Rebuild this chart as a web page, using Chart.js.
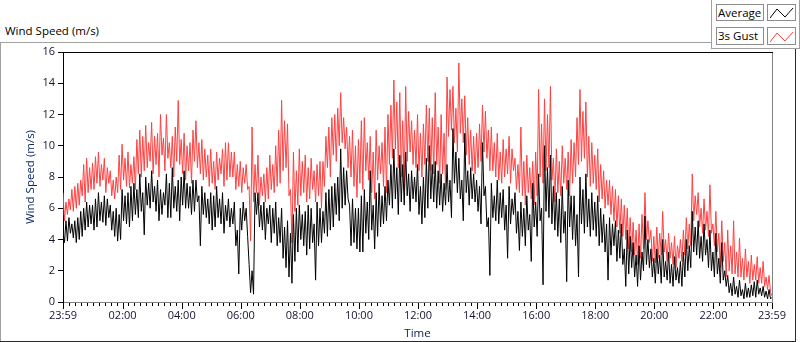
<!DOCTYPE html>
<html>
<head>
<meta charset="utf-8">
<script src="https://cdn.jsdelivr.net/npm/chart.js@4.4.1/dist/chart.umd.min.js"></script>
<style>
  html, body { margin: 0; padding: 0; background: #fff; overflow: hidden; }
  body { width: 800px; height: 342px; position: relative; font-family: 'Open Sans', sans-serif; }
  #chart { position: absolute; left: 0; top: 0; }
  .line { position: absolute; }
  .title { position: absolute; left: 5px; top: 23px; font-size: 11.5px; line-height: 16px; color: #000; white-space: nowrap; }
  .legend-panel { position: absolute; left: 711px; top: -1px; width: 87px; height: 49px; border: 1px solid #a0a0a0; border-top: none; background: #fff; }
  .legend-label { position: absolute; left: 716px; width: 45px; background: #fff; border: 1px solid #8c8c8c; font-size: 11.5px; line-height: 15px; padding-left: 1px; color: #000; white-space: nowrap; }
  .legend-icon { position: absolute; left: 767px; width: 27px; background: #fff; border: 1px solid #8c8c8c; }
  .legend-icon svg { display: block; }
</style>
</head>
<body>
<div class="line" style="left:0;top:42px;width:711px;height:1px;background:#a0a0a0"></div>
<div class="line" style="left:0;top:42px;width:1px;height:299px;background:#a0a0a0"></div>
<div class="line" style="left:0;top:341px;width:796px;height:1px;background:#2a2a2a"></div>
<div class="line" style="left:795px;top:49px;width:1px;height:293px;background:#2a2a2a"></div>
<div class="legend-panel"></div>
<div class="title">Wind Speed (m/s)</div>

<div class="legend-label" style="top:4px;height:15px">Average</div>
<div class="legend-icon" style="top:4px;height:15px">
  <svg width="27" height="15"><polyline points="2,13 9,4 17,12 25,3" fill="none" stroke="#000" stroke-width="1"/></svg>
</div>
<div class="legend-label" style="top:27px;height:16px">3s Gust</div>
<div class="legend-icon" style="top:27px;height:16px">
  <svg width="27" height="16"><polyline points="2,14 9,5 17,13 25,4" fill="none" stroke="#ff4040" stroke-width="1"/></svg>
</div>

<canvas id="chart" width="800" height="342"></canvas>

<script>
// Wind speed log, one sample every 3 minutes starting 23:59 the day before
const SAMPLE_STEP_MIN = 3;

const avgSpeed = [
  4.5,3.8, 5.2,3.9, 5.4,4.4, 5.0,4.1, 5.2,3.8, 5.4,4.0, 5.8,4.2, 6.0,4.6, 6.4,4.8, 6.2,5.0,
  6.2,4.6, 6.6,4.8, 7.0,5.2, 6.4,5.1, 6.8,4.9, 6.6,5.4, 6.2,4.6, 5.8,4.2, 6.0,3.9, 5.6,4.0,
  7.2,5.2, 6.8,5.0, 7.0,4.8, 7.4,5.2, 7.6,5.6, 7.2,5.4, 8.2,5.8, 7.0,4.3, 8.0,6.2, 7.6,6.0,
  8.4,6.4, 7.4,5.8, 7.8,5.2, 7.2,5.6, 7.0,6.2, 8.2,5.4, 7.6,5.4, 8.6,6.0, 7.4,5.8, 7.8,5.2,
  8.0,6.2, 8.4,6.0, 7.6,6.0, 7.4,5.6, 7.8,5.8, 7.8,6.4, 6.8,3.6, 7.4,5.6, 7.0,5.4,
  6.6,5.0, 7.0,4.6, 6.8,4.8, 7.4,5.4, 6.6,5.0, 7.0,4.4, 6.2,5.2, 6.6,4.8, 6.0,5.0, 6.4,3.6,
  4.6,1.8, 6.0,4.6, 6.4,5.2, 6.0,4.2, 2.4,0.6, 2.0,0.5, 7.0,5.6, 7.0,4.8, 6.2,4.6, 6.4,4.0,
  6.0,5.0, 6.2,3.8, 6.0,4.4, 6.4,3.6, 5.4,3.8, 6.0,2.8, 4.8,2.2, 5.2,1.6, 4.4,1.2, 5.6,2.6,
  6.0,3.2, 6.2,4.0, 5.6,3.6, 5.8,3.0, 6.2,3.4, 6.0,3.8, 5.0,1.4, 6.4,3.6, 6.0,3.8, 5.8,4.4,
  7.0,4.2, 7.2,4.6, 7.4,4.8, 7.6,5.6, 8.0,5.2, 9.8,6.0, 8.6,6.2, 8.4,6.6,
  6.2,3.6, 6.6,3.8, 6.0,3.4, 6.0,3.2, 6.8,3.2, 7.2,4.4, 6.4,4.0, 8.4,4.6, 6.2,3.4, 7.0,4.2,
  7.6,4.8, 6.8,5.0, 7.4,5.2, 7.8,6.2, 8.8,6.0, 9.8,6.6, 8.6,5.6, 9.4,6.4, 8.8,6.2, 9.6,6.8,
  8.2,5.8, 8.4,6.6, 8.0,6.4, 8.8,5.6, 7.4,5.0, 8.0,5.4, 9.2,6.0, 10.0,6.6, 8.8,6.4, 9.0,6.0,
  8.4,6.2, 8.2,5.8, 7.6,6.2, 8.8,6.4, 7.8,5.4, 11.1,7.6, 9.6,7.0, 9.2,6.6, 7.8,5.2, 10.8,7.0,
  8.4,6.2, 8.6,6.6, 8.2,6.4, 7.8,5.8, 7.4,5.0, 10.2,6.8, 7.4,4.8, 5.4,1.7,
  7.6,5.4, 6.8,5.2, 7.8,5.0, 7.0,5.4, 7.2,4.6, 6.2,2.8, 7.4,5.0, 6.6,5.6, 7.0,4.4, 5.8,3.3,
  6.4,4.2, 6.0,3.6, 6.8,4.6, 5.6,2.6, 7.6,4.8, 6.4,4.2, 8.2,5.2, 6.0,1.1, 10.0,5.8, 8.6,5.4,
  9.4,5.0, 7.4,4.6, 7.0,4.2, 6.6,3.8, 7.4,4.4, 5.8,1.3, 7.8,4.8, 6.8,4.0, 6.8,3.6, 5.6,1.6,
  8.0,5.0, 7.2,4.4, 8.2,4.8, 6.6,4.2, 7.0,4.6, 6.4,4.2, 6.8,3.6, 6.0,3.8, 5.6,3.2, 5.0,1.4,
  5.4,3.0, 5.0,3.6, 5.2,2.6, 4.6,2.8, 5.0,2.4, 3.4,1.0, 4.6,1.8, 4.2,2.2,
  3.8,1.6, 3.0,1.0, 3.6,1.4, 3.2,2.0, 5.5,2.4, 4.0,2.2, 3.4,1.6, 2.8,1.2, 3.4,1.8, 3.0,1.2,
  4.0,1.6, 2.6,1.4, 3.2,1.2, 2.4,1.0, 2.9,1.4, 2.2,1.2, 2.6,1.0, 3.2,1.6, 4.0,2.0, 3.6,2.2,
  5.8,3.2, 4.8,3.0, 5.2,2.8, 4.2,2.6, 5.0,3.0, 4.0,2.2, 4.6,2.0, 3.2,1.6, 4.4,1.8, 2.8,1.2,
  3.8,1.4, 2.0,1.0, 1.7,0.6, 1.2,0.4, 1.6,0.5, 1.0,0.3, 1.4,0.4, 0.8,0.2, 1.2,0.3, 0.9,0.3,
  1.1,0.4, 1.3,0.3, 1.4,0.5, 0.9,0.4, 1.0,0.3, 0.7,0.2, 0.8,0.2, 0.3
];

const gustSpeed = [
  7.0,5.2, 6.4,5.6, 6.6,5.9, 7.2,5.8, 7.4,6.0, 7.6,6.2, 7.8,6.8, 8.8,6.4, 9.2,7.0, 8.6,7.2,
  8.9,7.2, 9.3,7.6, 9.6,7.4, 8.8,7.8, 9.2,7.0, 8.6,7.6, 8.4,6.8, 7.8,6.6, 8.0,7.0, 9.4,7.2,
  10.1,7.8, 9.2,7.4, 9.6,7.3, 8.8,7.6, 9.3,7.2, 10.4,8.2, 11.0,8.0, 10.6,8.4, 11.3,8.6, 10.2,9.0,
  11.5,8.2, 10.6,8.8, 10.8,8.0, 12.0,9.4, 10.5,8.4, 12.0,9.2, 10.2,8.6, 10.6,8.0, 11.2,9.0, 12.9,8.8,
  10.4,8.2, 10.8,7.8, 10.0,8.4, 10.2,7.6, 11.0,9.0, 11.6,8.6, 10.2,8.2, 10.4,7.8, 9.8,8.0,
  9.4,7.4, 9.8,7.6, 9.0,7.2, 9.6,7.8, 9.2,8.2, 9.8,7.4, 10.2,7.8, 10.2,8.0, 9.6,8.0, 9.6,7.2,
  8.8,7.4, 9.0,7.0, 8.6,7.6, 8.8,7.2, 7.4,3.9, 11.2,6.4, 8.8,7.0, 9.4,6.2, 8.0,6.8, 8.2,6.4,
  8.6,6.6, 9.4,7.2, 8.8,7.0, 10.0,7.4, 11.0,7.6, 12.9,8.4, 11.6,8.6, 11.4,6.8, 7.2,3.8, 9.6,5.8,
  8.4,6.2, 9.8,6.8, 9.0,7.0, 9.4,6.4, 8.6,6.6, 9.2,7.2, 8.4,6.4, 8.8,6.8, 9.0,6.0, 9.0,7.4,
  10.6,8.6, 11.2,8.0, 11.8,9.4, 12.0,9.0, 12.4,10.0, 13.4,10.2, 11.8,9.8, 11.2,8.6,
  10.6,8.0, 11.0,7.4, 10.0,6.7, 10.4,7.6, 11.6,7.2, 11.8,8.4, 10.2,7.8, 10.6,7.0, 9.6,6.6, 11.0,7.8,
  10.0,8.2, 10.2,7.4, 11.2,7.0, 12.0,8.8, 12.6,9.2, 14.2,9.8, 12.8,8.6, 13.4,8.0, 11.6,7.2, 13.8,9.0,
  12.2,9.6, 11.6,8.8, 11.0,8.6, 12.0,8.4, 10.8,8.0, 11.4,8.8, 12.6,9.0, 12.4,8.4, 11.8,8.2, 13.4,8.8,
  11.2,7.6, 12.0,8.2, 10.8,7.2, 14.4,10.6, 13.6,11.0, 13.8,10.2, 12.4,9.6, 15.3,10.8, 13.0,10.2, 13.2,9.4,
  11.8,8.8, 11.0,8.4, 10.6,8.2, 10.8,8.6, 11.4,9.0, 12.6,9.6, 12.2,9.2, 11.0,8.4,
  11.2,8.4, 10.2,8.0, 10.8,7.8, 9.6,7.6, 10.4,8.0, 9.8,8.2, 10.6,7.6, 9.8,8.4, 9.2,7.2, 8.8,7.0,
  11.2,6.8, 9.0,6.2, 9.4,7.0, 8.6,6.6, 9.0,6.2, 9.6,6.8, 13.6,8.0, 11.4,7.6, 13.0,8.4, 12.0,8.6,
  13.8,7.8, 9.2,6.4, 9.8,7.0, 9.0,6.8, 10.0,7.6, 9.2,7.2, 9.6,6.8, 10.4,7.6, 10.2,8.0, 11.8,8.8,
  13.6,9.0, 12.2,9.2, 12.8,8.0, 10.6,7.4, 10.2,7.6, 9.4,7.2, 9.8,6.4, 8.8,6.6, 8.4,6.0, 7.8,6.2,
  7.8,5.6, 7.4,5.2, 7.2,4.8, 6.8,4.4, 6.6,4.2, 6.2,4.0, 6.0,3.4, 5.4,3.2,
  5.1,3.0, 4.6,2.4, 5.0,2.8, 5.6,3.4, 7.0,4.0, 5.2,3.8, 4.6,2.6, 4.2,2.5, 4.8,2.8, 4.4,3.0,
  5.8,3.2, 4.0,2.6, 4.4,2.8, 3.8,2.4, 4.2,2.2, 3.6,2.8, 4.0,2.6, 4.6,3.0, 5.4,3.4, 5.0,3.6,
  8.2,5.2, 6.8,5.6, 7.0,4.8, 6.0,4.4, 6.6,4.6, 5.8,4.2, 7.5,4.4, 5.0,3.6, 5.8,3.2, 4.4,2.2,
  5.2,2.6, 3.8,1.6, 4.6,2.0, 3.6,1.8, 5.2,1.8, 3.2,1.6, 4.1,1.6, 2.8,1.4, 3.4,1.6, 2.6,1.2,
  3.0,1.4, 2.4,1.4, 2.9,1.2, 2.2,1.2, 2.6,1.0, 1.6,0.8, 1.7,0.6, 0.4
];

// minutes after 23:59 where the time axis is labelled
const xTickMinutes = [0, 121, 241, 361, 481, 601, 721, 841, 961, 1081, 1201, 1321, 1440];
const xTickLabels = ['23:59', '02:00', '04:00', '06:00', '08:00', '10:00', '12:00',
                     '14:00', '16:00', '18:00', '20:00', '22:00', '23:59'];

const toPoints = arr => arr.map((v, i) => ({ x: i * SAMPLE_STEP_MIN, y: v }));

Chart.defaults.font.family = "'Open Sans', sans-serif";

// black top/right plot edge plus the major/minor time ticks
const plotFrame = {
  id: 'plotFrame',
  afterDraw(chart) {
    const { ctx, chartArea: a, scales: { x } } = chart;
    ctx.save();
    ctx.lineWidth = 1;
    ctx.strokeStyle = '#000';
    ctx.beginPath();
    ctx.moveTo(a.left, a.top + 0.5);
    ctx.lineTo(a.right + 1, a.top + 0.5);
    ctx.stroke();
    ctx.strokeStyle = '#808080';
    ctx.beginPath();
    ctx.moveTo(a.right + 0.5, a.top + 1);
    ctx.lineTo(a.right + 0.5, a.bottom + 1);
    ctx.stroke();

    ctx.strokeStyle = '#000';
    ctx.beginPath();
    for (let m = 1; m < 1440; m += 12) {
      if (xTickMinutes.includes(m)) continue;
      const px = Math.round(x.getPixelForValue(m)) + 0.5;
      ctx.moveTo(px, a.bottom + 1);
      ctx.lineTo(px, a.bottom + 4);
    }
    xTickMinutes.forEach(m => {
      const px = Math.round(x.getPixelForValue(m)) + 0.5;
      ctx.moveTo(px, a.bottom + 1);
      ctx.lineTo(px, a.bottom + 7);
    });
    ctx.stroke();
    ctx.restore();
  }
};

new Chart(document.getElementById('chart'), {
  type: 'line',
  data: {
    datasets: [
      {
        label: 'Average',
        data: toPoints(avgSpeed),
        borderColor: '#000',
        borderWidth: 1,
        pointRadius: 0,
        tension: 0
      },
      {
        label: '3s Gust',
        data: toPoints(gustSpeed),
        borderColor: '#ff4040',
        borderWidth: 1,
        pointRadius: 0,
        tension: 0
      }
    ]
  },
  options: {
    responsive: false,
    animation: false,
    events: [],
    layout: { padding: { left: 0, top: 52, right: 28, bottom: 0 } },
    plugins: {
      legend: { display: false },
      tooltip: { enabled: false }
    },
    scales: {
      x: {
        type: 'linear',
        min: 0,
        max: 1440,
        afterBuildTicks: scale => { scale.ticks = xTickMinutes.map(v => ({ value: v })); },
        afterFit: scale => { scale.height = 40; },
        ticks: {
          autoSkip: false,
          maxRotation: 0,
          padding: 7,
          color: '#141432',
          font: { size: 11 },
          callback: (value, index) => xTickLabels[index]
        },
        grid: { drawOnChartArea: false, drawTicks: false },
        border: { color: '#808080' },
        title: {
          display: true,
          text: 'Time',
          color: '#0c1f4a',
          font: { size: 11.5 },
          padding: { top: 0, bottom: 1 }
        }
      },
      y: {
        min: 0,
        max: 16,
        afterFit: scale => { scale.width = 63; },
        ticks: {
          stepSize: 2,
          padding: 3,
          color: '#141432',
          font: { size: 11 }
        },
        grid: { drawOnChartArea: false, tickLength: 5, tickColor: '#000' },
        border: { color: '#000' },
        title: {
          display: true,
          text: 'Wind Speed (m/s)',
          color: '#0c2a66',
          font: { size: 11.5 },
          padding: { top: 24, bottom: 0 }
        }
      }
    }
  },
  plugins: [plotFrame]
});
</script>
</body>
</html>
